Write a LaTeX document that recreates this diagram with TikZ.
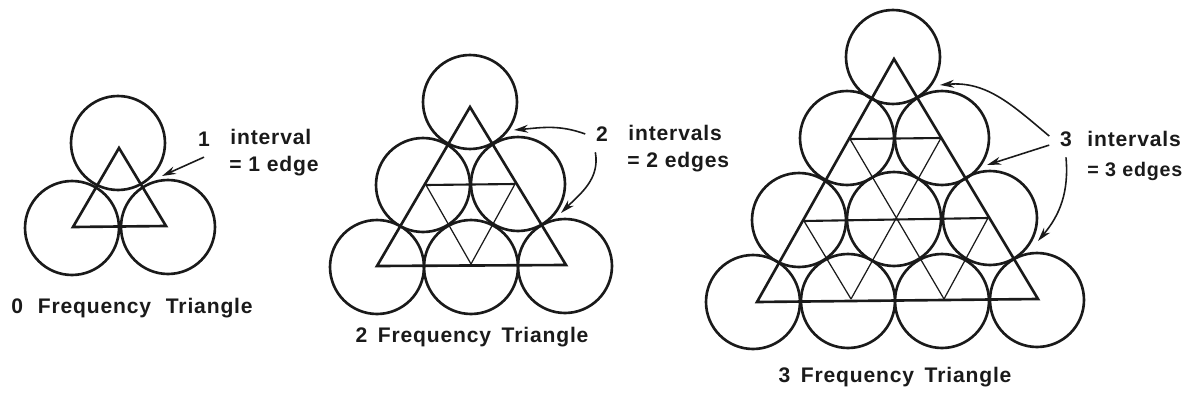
\documentclass[tikz,border=0pt]{standalone}
\usepackage{fontspec}
\newfontfamily\labelfont[LetterSpace=4]{Liberation Sans}
\usetikzlibrary{arrows.meta,positioning}
\definecolor{ink}{HTML}{1A1A1A}
\tikzset{
  ballnode/.style={circle,draw=ink,minimum size=1.88cm,inner sep=0pt,line width=1.5pt},
  outline/.style={draw=ink,line width=1.5pt,line join=miter},
  midline/.style={draw=ink,line width=1.2pt},
  thinline/.style={draw=ink,line width=0.7pt},
  callout/.style={-{Stealth[length=8pt,width=4.5pt]},draw=ink,line width=0.9pt},
  numlabel/.style={text=ink,font=\labelfont\fontsize{12}{14}\selectfont\bfseries,inner sep=6pt},
  txtlabel/.style={anchor=west,text=ink,font=\labelfont\fontsize{12}{14}\selectfont\bfseries,inner sep=0pt},
  titlelabel/.style={text=ink,font=\labelfont\fontsize{12}{14}\selectfont\bfseries,inner sep=0pt},
}
\begin{document}
\begin{tikzpicture}[x=0.02cm,y=-0.02cm]
  \useasboundingbox (0,0) rectangle (1188,396);
  % 0 frequency
  \node[ballnode] (a1) at (118,143) {};
  \node[ballnode] (a2) at (72,228) {};
  \node[ballnode] (a3) at (168,227) {};
  \coordinate (aT) at (119,148);
  \coordinate (aL) at (73,227);
  \coordinate (aR) at (166,226);
  \draw[outline] (aT) -- (aL) -- (aR) -- cycle;
  \node[numlabel] (num1) at (204,139) {1};
  \node[txtlabel] (int1) at (230,137) {interval};
  \node[txtlabel] (edg1) at (229,166) {= 1 edge};
  \coordinate (tip1) at (162,176);
  \draw[callout] (num1.south) -- (tip1);
  \node[titlelabel] (title1) at (132,308) {0\hspace{0.7em}Frequency\hspace{0.7em}Triangle};
  % 2 frequency
  \node[ballnode] (b1) at (470,102) {};
  \node[ballnode] (b2) at (423,185) {};
  \node[ballnode] (b3) at (518,184) {};
  \node[ballnode] (b4) at (377,267) {};
  \node[ballnode] (b5) at (471,267) {};
  \node[ballnode] (b6) at (565,266) {};
  \coordinate (bT) at (470,107);
  \coordinate (bL) at (377,266);
  \coordinate (bR) at (566,265);
  \coordinate (bM1) at (426,185);
  \coordinate (bM2) at (515,184);
  \coordinate (bB) at (471,264);
  \draw[outline] (bT) -- (bL) -- (bR) -- cycle;
  \draw[midline] (bM1) -- (bM2);
  \draw[thinline] (bM1) -- (bB) -- (bM2);
  \node[numlabel] (num2) at (602,134) {2};
  \node[txtlabel] (int2) at (628,133) {intervals};
  \node[txtlabel] (edg2) at (627,162) {= 2 edges};
  \coordinate (tip2a) at (514,130);
  \coordinate (tip2b) at (561,213);
  \draw[callout] (num2.west) to[out=160,in=5] (tip2a);
  \draw[callout] (num2.250) to[out=-80,in=45] (tip2b);
  \node[titlelabel] (title2) at (472,337) {2\hspace{0.5em}Frequency\hspace{0.5em}Triangle};
  % 3 frequency
  \node[ballnode] (c1) at (893,57) {};
  \node[ballnode] (c2) at (847,138) {};
  \node[ballnode] (c3) at (942,138) {};
  \node[ballnode] (c4) at (799,220) {};
  \node[ballnode] (c5) at (894,219) {};
  \node[ballnode] (c6) at (990,218) {};
  \node[ballnode] (c7) at (753,302) {};
  \node[ballnode] (c8) at (848,301) {};
  \node[ballnode] (c9) at (942,301) {};
  \node[ballnode] (c10) at (1037,300) {};
  \coordinate (cT) at (894,59);
  \coordinate (cL) at (757,302);
  \coordinate (cR) at (1038,299);
  \coordinate (cA1) at (850,139);
  \coordinate (cA2) at (941,138);
  \coordinate (cC1) at (804,221);
  \coordinate (cC2) at (988,218);
  \coordinate (cB1) at (851,299);
  \coordinate (cB2) at (944,299);
  \draw[outline] (cT) -- (cL) -- (cR) -- cycle;
  \draw[midline] (cA1) -- (cA2);
  \draw[midline] (cC1) -- (cC2);
  \draw[thinline] (cA1) -- (cB2);
  \draw[thinline] (cA2) -- (cB1);
  \draw[thinline] (cC1) -- (cB1);
  \draw[thinline] (cC2) -- (cB2);
  \node[numlabel] (num3) at (1066,139) {3};
  \node[txtlabel] (int3) at (1087,139) {intervals};
  \node[txtlabel,font=\labelfont\fontsize{11.2}{14}\selectfont\bfseries] (edg3) at (1087,171) {= 3 edges};
  \coordinate (tip3a) at (940,85);
  \coordinate (tip3b) at (987,165);
  \coordinate (tip3c) at (1038,241);
  \draw[callout] (num3.170) to[out=140,in=5] (tip3a);
  \draw[callout] (num3.200) -- (tip3b);
  \draw[callout] (num3.south) to[out=-85,in=50] (tip3c);
  \node[titlelabel] (title3) at (895,377) {3\hspace{0.5em}Frequency\hspace{0.5em}Triangle};
\end{tikzpicture}
\end{document}
